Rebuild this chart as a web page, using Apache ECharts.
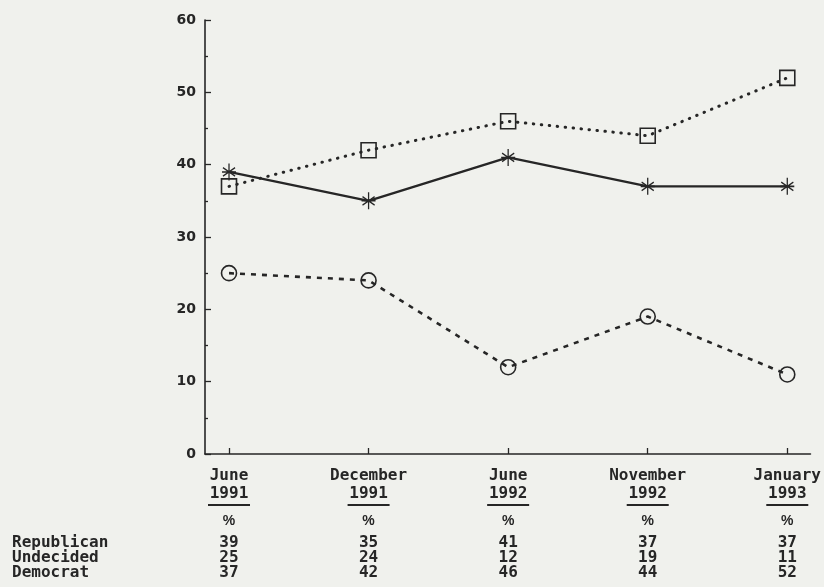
<!DOCTYPE html>
<html>
<head>
<meta charset="utf-8">
<script src="https://cdn.jsdelivr.net/npm/echarts@6/dist/echarts.min.js"></script>
<style>
html,body{margin:0;padding:0;background:#f0f1ed;}
#chart{width:824px;height:587px;}
</style>
</head>
<body>
<div id="chart"></div>
<script>
// ---- data ----
var months = ['June', 'December', 'June', 'November', 'January'];
var years = ['1991', '1991', '1992', '1992', '1993'];
var republican = [39, 35, 41, 37, 37];
var undecided = [25, 24, 12, 19, 11];
var democrat = [37, 42, 46, 44, 52];
var rowLabels = ['Republican', 'Undecided', 'Democrat'];
var yTicks = [0, 10, 20, 30, 40, 50, 60];

var ink = '#262626';
var tableFont = '"DejaVu Sans Mono", monospace';
var idx = months.map(function (m, i) { return i; });

function pairs(arr) { return arr.map(function (v, i) { return [i, v]; }); }

var chart = echarts.init(document.getElementById('chart'), null, { renderer: 'canvas' });

var option = {
  backgroundColor: '#f0f1ed',
  animation: false,
  grid: { left: 205, right: 11, top: 20, bottom: 133, containLabel: false },
  xAxis: {
    type: 'value',
    min: -0.172,
    max: 4.166,
    splitLine: { show: false },
    axisLine: { show: true, onZero: false, lineStyle: { color: ink, width: 1.6 } },
    axisTick: { show: true, inside: true, length: 6, customValues: idx, lineStyle: { color: ink, width: 1.3 } },
    axisLabel: {
      show: true,
      customValues: idx,
      margin: 13,
      interval: 0,
      fontFamily: tableFont,
      fontWeight: 'bold',
      fontSize: 16,
      color: ink,
      formatter: function (value) {
        var i = Math.round(value);
        return '{m|' + months[i] + '}\n{m|' + years[i] + '}\n{u| }\n{pct|%}\n{v|' +
          republican[i] + '}\n{v|' + undecided[i] + '}\n{v|' + democrat[i] + '}';
      },
      rich: {
        m: { fontFamily: tableFont, fontWeight: 'bold', fontSize: 16, color: ink, lineHeight: 18 },
        u: { width: 42, height: 2, lineHeight: 4, backgroundColor: ink, fontSize: 2 },
        pct: { fontFamily: '"Liberation Sans", "DejaVu Sans", sans-serif', fontWeight: 'bold', fontSize: 14, color: ink, lineHeight: 28 },
        v: { fontFamily: tableFont, fontWeight: 'bold', fontSize: 16, color: ink, lineHeight: 15 }
      }
    }
  },
  yAxis: {
    type: 'value',
    min: 0,
    max: 60,
    interval: 10,
    splitLine: { show: false },
    axisLine: { show: true, onZero: false, lineStyle: { color: ink, width: 1.6 } },
    axisTick: { show: true, inside: true, length: 6, lineStyle: { color: ink, width: 1.3 } },
    minorTick: { show: true, splitNumber: 2, length: 3, lineStyle: { color: ink, width: 1.3 } },
    axisLabel: {
      margin: 9,
      color: ink,
      fontFamily: '"DejaVu Sans", sans-serif',
      fontWeight: 'bold',
      fontSize: 14,
      formatter: function (v) { return yTicks.indexOf(v) >= 0 ? String(v) : ''; }
    }
  },
  graphic: [{
    type: 'text',
    left: 12,
    top: 535,
    style: {
      text: rowLabels.join('\n'),
      font: 'bold 16px "DejaVu Sans Mono", monospace',
      lineHeight: 15,
      fill: ink
    }
  }],
  series: [
    {
      name: 'Republican',
      type: 'line',
      data: pairs(republican),
      symbol: 'path://M10 0 L10 20 M1.34 5 L18.66 15 M1.34 15 L18.66 5 M0 10 L20 10',
      symbolSize: [14, 17],
      itemStyle: { color: 'transparent', borderColor: ink, borderWidth: 1.4 },
      lineStyle: { color: ink, width: 2.4, type: 'solid' },
      emphasis: { disabled: true },
      z: 3
    },
    {
      name: 'Undecided',
      type: 'line',
      data: pairs(undecided),
      symbol: 'circle',
      symbolSize: 15,
      itemStyle: { color: 'transparent', borderColor: ink, borderWidth: 1.6 },
      lineStyle: { color: ink, width: 2.6, type: [5, 6] },
      emphasis: { disabled: true },
      z: 2
    },
    {
      name: 'Democrat',
      type: 'line',
      data: pairs(democrat),
      symbol: 'rect',
      symbolSize: 15,
      itemStyle: { color: 'transparent', borderColor: ink, borderWidth: 1.6 },
      lineStyle: { color: ink, width: 3, type: [0.5, 7.5], cap: 'round' },
      emphasis: { disabled: true },
      z: 2
    }
  ]
};
chart.setOption(option);
</script>
</body>
</html>
